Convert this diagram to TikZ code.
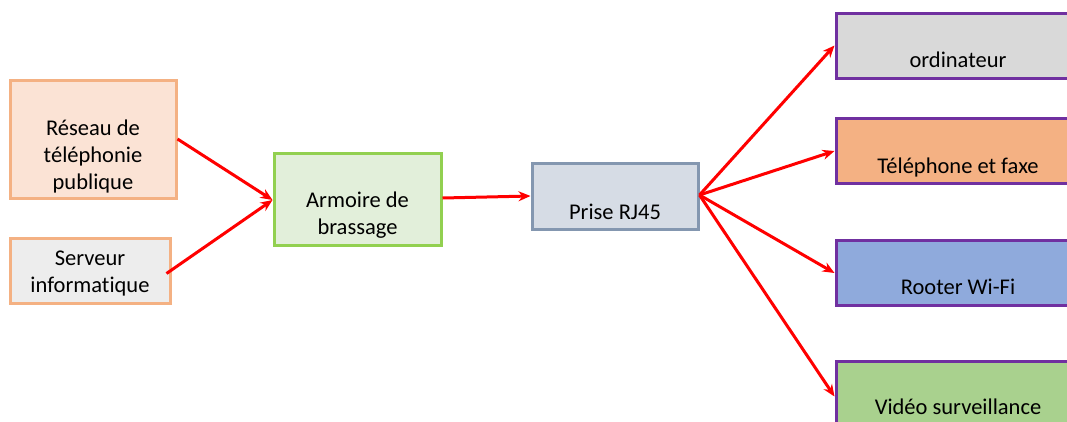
\documentclass[tikz,border=0pt]{standalone}
\usepackage{fontspec}
\setmainfont[Ligatures=NoCommon]{Carlito}
\usetikzlibrary{arrows.meta}
\definecolor{orbd}{HTML}{F4B183}
\definecolor{orfill}{HTML}{FBE3D5}
\definecolor{grfill}{HTML}{EDEDED}
\definecolor{gnbd}{HTML}{92D050}
\definecolor{gnfill}{HTML}{E2EFDA}
\definecolor{blbd}{HTML}{8497B0}
\definecolor{blfill}{HTML}{D6DCE5}
\definecolor{purp}{HTML}{7030A0}
\definecolor{ordfill}{HTML}{D9D9D9}
\definecolor{telfill}{HTML}{F4B183}
\definecolor{wififill}{HTML}{8FAADC}
\definecolor{vidfill}{HTML}{A9D18E}
\tikzset{
  box/.style={draw, line width=3pt, rectangle, inner sep=0pt, align=center,
    font=\fontsize{22.5}{27}\selectfont},
  rbox/.style={box, draw=purp, minimum width=244pt, minimum height=65pt},
  lbl/.style={anchor=base, inner sep=0pt, align=center, font=\fontsize{22.5}{27}\selectfont},
  conn/.style={draw=red, line width=3pt, -{Stealth[length=12pt,width=10pt]}}
}
\begin{document}
\begin{tikzpicture}[x=1pt,y=-1pt]
\useasboundingbox (0,0) rectangle (1067,421);
\clip (0,0) rectangle (1067,421);
\fill[white] (0,0) rectangle (1067,421);
\node[box, draw=orbd, fill=orfill, minimum width=166pt, minimum height=118pt] (res) at (93,139) {};
\node[lbl] at (93,135) {Réseau de};
\node[lbl] at (93,162) {téléphonie};
\node[lbl] at (93,189) {publique};
\node[box, draw=orbd, fill=grfill, minimum width=160pt, minimum height=65pt] (srv) at (90,270.5) {};
\node[lbl] at (90,265) {Serveur};
\node[lbl] at (90,292) {informatique};
\node[box, draw=gnbd, fill=gnfill, minimum width=167pt, minimum height=92pt] (arm) at (357.5,199) {};
\node[lbl] (armt) at (357.5,207) {Armoire de};
\node[lbl] at (357.5,234) {brassage};
\node[box, draw=blbd, fill=blfill, minimum width=166pt, minimum height=66pt] (rj) at (615,196) {};
\node[lbl] (rjt) at (615,219) {Prise RJ45};
\node[rbox, fill=ordfill] (ord) at (958,45.5) {};
\node[lbl] at (958,67) {ordinateur};
\node[rbox, fill=telfill] (tel) at (958,151) {};
\node[lbl] at (958,173) {Téléphone et faxe};
\node[rbox, fill=wififill] (wifi) at (958,273) {};
\node[lbl] at (958,294) {Rooter Wi-Fi};
\node[rbox, fill=vidfill] (vid) at (958,393.5) {};
\node[lbl] at (958,414) {Vidéo surveillance};
\draw[conn] (res.east) -- ([yshift=-1pt]arm.west);
\draw[conn] ([yshift=-3pt,xshift=-5pt]srv.east) -- ([yshift=-1pt]arm.west);
\draw[conn] ([yshift=1pt]arm.east) -- (rj.west);
\draw[conn] ([yshift=1pt]rj.east) -- (ord.west);
\draw[conn] ([yshift=1pt]rj.east) -- (tel.west);
\draw[conn] ([yshift=1pt]rj.east) -- (wifi.west);
\draw[conn] ([yshift=1pt]rj.east) -- ([yshift=-3pt]vid.west);
\end{tikzpicture}
\end{document}
